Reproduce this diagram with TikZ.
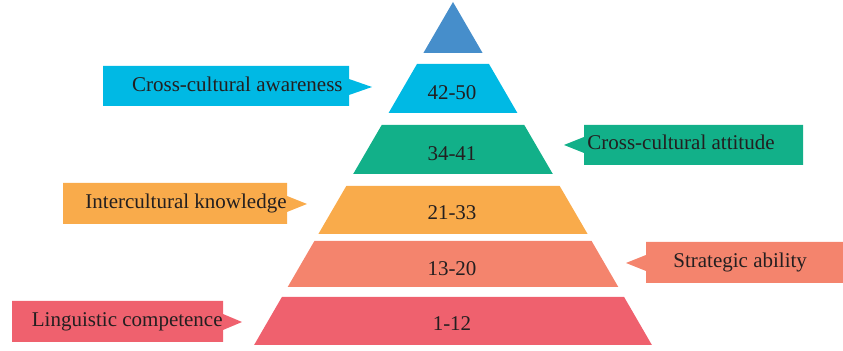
\documentclass[tikz,border=0pt]{standalone}
\usepackage{tikz}
\usepackage{fontspec}
\setmainfont{Liberation Serif}
\definecolor{topblue}{RGB}{70,142,203}
\definecolor{lvlcyan}{RGB}{0,185,228}
\definecolor{lvlgreen}{RGB}{18,176,137}
\definecolor{lvlorange}{RGB}{249,171,75}
\definecolor{lvlsalmon}{RGB}{244,132,109}
\definecolor{lvlred}{RGB}{239,97,110}
\definecolor{txtgray}{RGB}{35,31,32}
\tikzset{lbl/.style={text=txtgray, inner sep=0pt, font=\fontsize{10.5}{13}\selectfont}}

\begin{document}
\begin{tikzpicture}[x=0.5pt,y=-0.5pt]
\useasboundingbox (0,0) rectangle (843,351);
% pyramid levels
\fill [topblue] (453,2) -- (482.6,53) -- (423.4,53) -- cycle;
\fill [lvlcyan] (417,64) -- (489,64) -- (517.4,113) -- (388.6,113) -- cycle;
\fill [lvlgreen] (381.7,125) -- (524.3,125) -- (552.8,174) -- (353.2,174) -- cycle;
\fill [lvlorange] (346.3,186) -- (559.7,186) -- (587.6,234) -- (318.4,234) -- cycle;
\fill [lvlsalmon] (314.4,241) -- (591.6,241) -- (618.3,287) -- (287.7,287) -- cycle;
\fill [lvlred] (281.9,297) -- (624.1,297) -- (651.9,345) -- (254.1,345) -- cycle;
\node [lbl, anchor=base] (num5) at (452,100) {42-50};
\node [lbl, anchor=base] (num4) at (452,161) {34-41};
\node [lbl, anchor=base] (num3) at (452,220) {21-33};
\node [lbl, anchor=base] (num2) at (452,276) {13-20};
\node [lbl, anchor=base] (num1) at (452,331) {1-12};
% tags
\fill [lvlcyan] (103,66) -- (349,66) -- (349,79) -- (372,87) -- (349,95) -- (349,106) -- (103,106) -- cycle;
\node [lbl, anchor=base east] (tag5) at (343,92) {Cross-cultural awareness};
\fill [lvlgreen] (803,125) -- (584,125) -- (584,137) -- (564,145) -- (584,153) -- (584,165) -- (803,165) -- cycle;
\node [lbl, anchor=base west] (tag4) at (587,150) {Cross-cultural attitude};
\fill [lvlorange] (63,183) -- (287,183) -- (287,196) -- (307,204) -- (287,212) -- (287,224) -- (63,224) -- cycle;
\node [lbl, anchor=base east] (tag3) at (287,209) {Intercultural knowledge};
\fill [lvlsalmon] (843,242) -- (646,242) -- (646,255) -- (626,263) -- (646,271) -- (646,283) -- (843,283) -- cycle;
\node [lbl, anchor=base west] (tag2) at (673,268) {Strategic ability};
\fill [lvlred] (12,301) -- (223,301) -- (223,314) -- (242,322) -- (223,330) -- (223,342) -- (12,342) -- cycle;
\node [lbl, anchor=base east] (tag1) at (223,327) {Linguistic competence};
\end{tikzpicture}
\end{document}
